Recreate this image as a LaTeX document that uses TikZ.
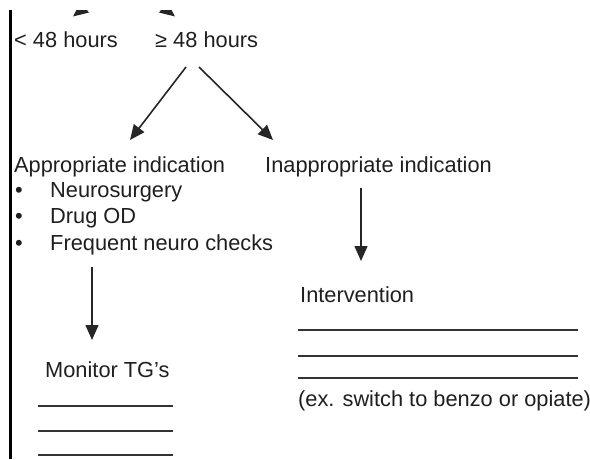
\documentclass[tikz,border=0pt]{standalone}
\usepackage{fontspec}
\setmainfont{Liberation Sans}
\usetikzlibrary{arrows.meta}
\begin{document}
\begin{tikzpicture}[x=1pt,y=-1pt,
  lbl/.style={anchor=base west,inner sep=0pt,text=black!88,font=\fontsize{21.8}{26}\selectfont},
  arr/.style={line width=1.6pt,black!85,-{Triangle[width=13pt,length=15pt]}},
  blank/.style={line width=2pt,black!80}]
\useasboundingbox (0,0) rectangle (590,459);
% left bar
\draw[line width=3pt,black] (10.5,10) -- (10.5,459);
% top arrows (cut off)
\begin{scope}
\clip (0,10) rectangle (590,459);
\coordinate (t1s) at (112.4,-14.3); \coordinate (t1e) at (73,16.5);
\coordinate (t2s) at (135.6,-14.3); \coordinate (t2e) at (175,16.5);
\draw[arr] (t1s) -- (t1e);
\draw[arr] (t2s) -- (t2e);
\end{scope}
% texts
\node[lbl] (lt) at (14,47) {< 48 hours};
\node[lbl] (ge) at (155,47) {≥ 48 hours};
\node[lbl] (app) at (14,172) {Appropriate indication};
\node[lbl] (inapp) at (265,172) {Inappropriate indication};
\node[lbl] (d1) at (15,197) {•};
\node[lbl] (d2) at (15,223.5) {•};
\node[lbl] (d3) at (15,250) {•};
\node[lbl] (b1) at (50,197) {Neurosurgery};
\node[lbl] (b2) at (50,223.5) {Drug OD};
\node[lbl] (b3) at (50,250) {Frequent neuro checks};
\node[lbl] (int) at (300,302) {Intervention};
\node[lbl] (ex) at (298,406) {(ex. switch to benzo or opiate)};
\node[lbl] (mon) at (45,377) {Monitor TG’s};
% arrows
\coordinate (a1s) at (186,67); \coordinate (a1e) at (130,140);
\coordinate (a2s) at (199,67); \coordinate (a2e) at (273,140);
\coordinate (a3s) at (361,188); \coordinate (a3e) at (361,261);
\coordinate (a4s) at (92,267); \coordinate (a4e) at (92,340);
\draw[arr] (a1s) -- (a1e);
\draw[arr] (a2s) -- (a2e);
\draw[arr] (a3s) -- (a3e);
\draw[arr] (a4s) -- (a4e);
% blank lines
\foreach \yy in {330,356,378} \draw[blank] (298,\yy) -- (578,\yy);
\foreach \yy in {406,431,455} \draw[blank] (38,\yy) -- (173,\yy);
\end{tikzpicture}
\end{document}
